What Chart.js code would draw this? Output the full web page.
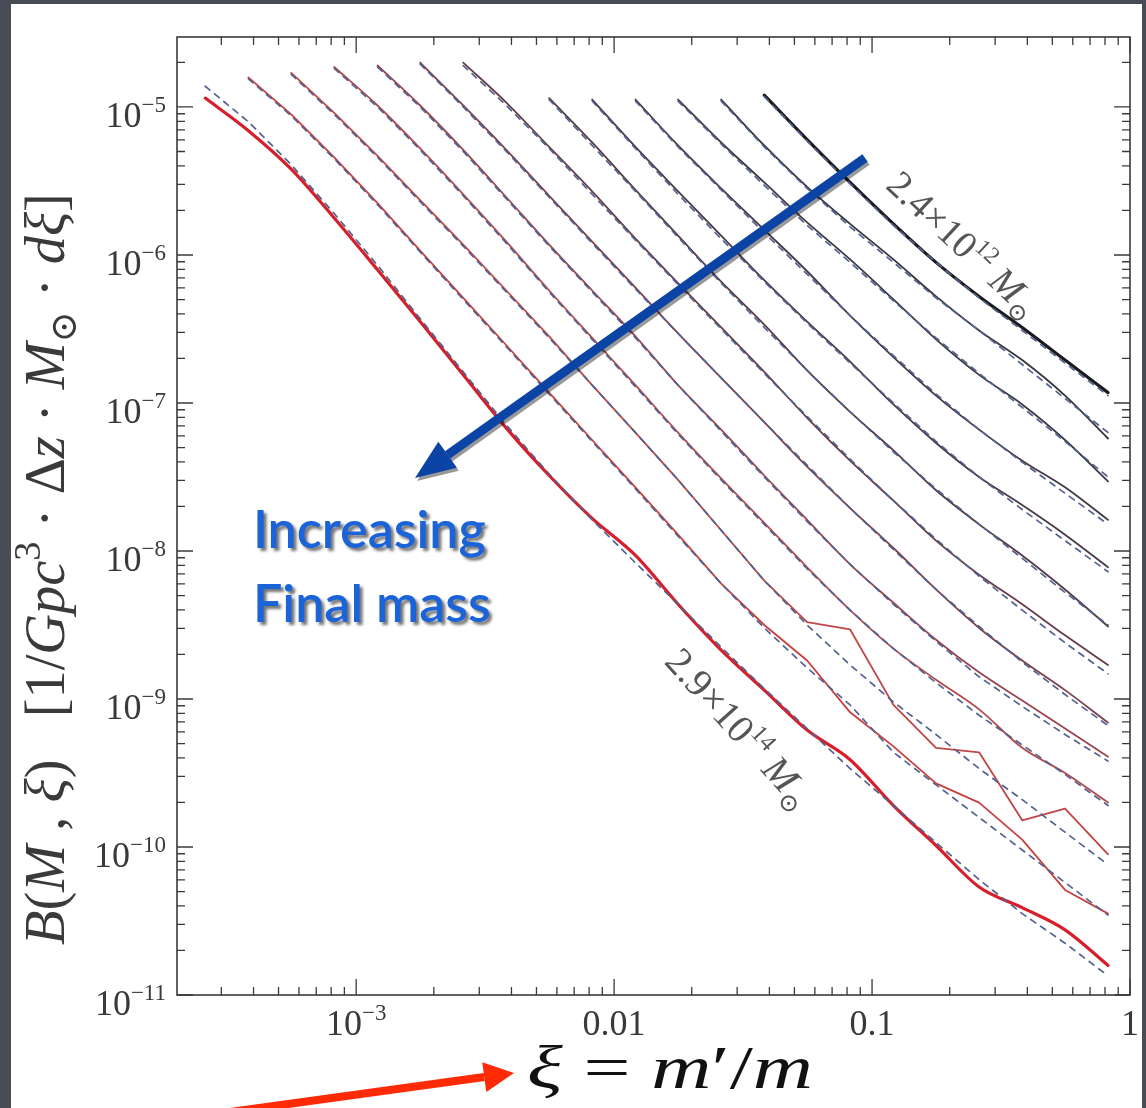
<!DOCTYPE html>
<html>
<head>
<meta charset="utf-8">
<title>Merger rate per halo mass bin</title>
<script src="https://cdn.jsdelivr.net/npm/chart.js@4.4.1/dist/chart.umd.min.js"></script>
<style>
  html, body { margin: 0; padding: 0; background: #474c57; }
  #wrap { width: 1146px; height: 1108px; }
</style>
</head>
<body>
<div id="wrap"><canvas id="rateChart" width="1146" height="1108"></canvas></div>
<script>
// ---- data ---------------------------------------------------------------
// xi = m'/m bin centres, six bins per decade
const xiBins = [2.60e-4, 3.82e-4, 5.60e-4, 8.22e-4, 1.21e-3, 1.77e-3, 2.60e-3, 3.82e-3,
                5.60e-3, 8.22e-3, 1.21e-2, 1.77e-2, 2.60e-2, 3.82e-2, 5.60e-2, 8.22e-2,
                0.121, 0.177, 0.260, 0.382, 0.560, 0.822];

// first xi bin used by each final-mass curve (most massive first)
const startBin = [0, 1, 2, 3, 4, 5, 6, 8, 9, 10, 11, 12, 13];

// log10 B(M, xi), measured curves (bin01 = 2.9e14 Msun ... bin13 = 2.4e12 Msun)
const logB_bin01 = [-4.94, -5.16, -5.42, -5.75, -6.10, -6.45, -6.81, -7.17, -7.49, -7.78, -8.03, -8.36, -8.67, -8.94, -9.21, -9.41, -9.72, -9.99, -10.27, -10.41, -10.56, -10.80];
const logB_bin02 = [-4.80, -5.05, -5.34, -5.65, -5.97, -6.29, -6.61, -6.93, -7.25, -7.57, -7.89, -8.22, -8.50, -8.74, -9.09, -9.32, -9.57, -9.70, -9.95, -10.29, -10.45];
const logB_bin03 = [-4.77, -5.04, -5.33, -5.63, -5.93, -6.24, -6.55, -6.88, -7.20, -7.52, -7.86, -8.20, -8.48, -8.53, -9.04, -9.33, -9.36, -9.82, -9.74, -10.05];
const logB_bin04 = [-4.73, -4.99, -5.28, -5.59, -5.91, -6.24, -6.56, -6.88, -7.20, -7.51, -7.81, -8.11, -8.40, -8.66, -8.87, -9.07, -9.33, -9.50, -9.70];
const logB_bin05 = [-4.72, -4.99, -5.29, -5.61, -5.93, -6.24, -6.55, -6.88, -7.18, -7.49, -7.79, -8.09, -8.35, -8.60, -8.82, -9.01, -9.20, -9.39];
const logB_bin06 = [-4.70, -4.99, -5.29, -5.60, -5.91, -6.22, -6.53, -6.83, -7.13, -7.43, -7.71, -7.98, -8.26, -8.52, -8.74, -8.94, -9.16];
const logB_bin07 = [-4.70, -4.97, -5.27, -5.57, -5.89, -6.19, -6.49, -6.79, -7.10, -7.39, -7.66, -7.93, -8.16, -8.36, -8.57, -8.77];
const logB_bin08 = [-4.94, -5.24, -5.56, -5.87, -6.18, -6.47, -6.78, -7.06, -7.32, -7.59, -7.82, -8.03, -8.26, -8.51];
const logB_bin09 = [-4.95, -5.27, -5.57, -5.87, -6.17, -6.45, -6.72, -7.01, -7.27, -7.50, -7.69, -7.89, -8.11];
const logB_bin10 = [-4.95, -5.26, -5.55, -5.83, -6.11, -6.41, -6.69, -6.95, -7.18, -7.39, -7.57, -7.79];
const logB_bin11 = [-4.95, -5.24, -5.51, -5.78, -6.03, -6.30, -6.57, -6.81, -7.01, -7.25, -7.53];
const logB_bin12 = [-4.95, -5.26, -5.54, -5.79, -6.03, -6.28, -6.51, -6.71, -6.95, -7.24];
const logB_bin13 = [-4.92, -5.22, -5.51, -5.79, -6.05, -6.28, -6.49, -6.71, -6.93];

// log10 B, fitted curves (dashed)
const fit_bin01 = [-4.86, -5.10, -5.39, -5.72, -6.07, -6.43, -6.79, -7.15, -7.48, -7.79, -8.08, -8.36, -8.65, -8.93, -9.20, -9.47, -9.72, -9.97, -10.22, -10.45, -10.65, -10.87];
const fit_bin02 = [-4.81, -5.06, -5.35, -5.66, -5.98, -6.30, -6.62, -6.94, -7.26, -7.58, -7.90, -8.22, -8.52, -8.79, -9.04, -9.36, -9.58, -9.80, -10.02, -10.24, -10.46];
const fit_bin03 = [-4.78, -5.05, -5.34, -5.64, -5.94, -6.25, -6.56, -6.88, -7.20, -7.52, -7.86, -8.20, -8.50, -8.77, -9.02, -9.24, -9.47, -9.68, -9.90, -10.12];
const fit_bin04 = [-4.74, -5.00, -5.29, -5.60, -5.92, -6.25, -6.57, -6.89, -7.21, -7.52, -7.82, -8.12, -8.40, -8.66, -8.89, -9.11, -9.31, -9.51, -9.72];
const fit_bin05 = [-4.73, -5.00, -5.30, -5.62, -5.94, -6.25, -6.56, -6.88, -7.19, -7.50, -7.80, -8.09, -8.36, -8.61, -8.85, -9.05, -9.24, -9.42];
const fit_bin06 = [-4.71, -5.00, -5.30, -5.61, -5.92, -6.23, -6.53, -6.83, -7.13, -7.42, -7.71, -7.99, -8.26, -8.51, -8.75, -8.97, -9.18];
const fit_bin07 = [-4.72, -4.99, -5.28, -5.59, -5.90, -6.20, -6.50, -6.80, -7.09, -7.38, -7.66, -7.92, -8.17, -8.40, -8.62, -8.83];
const fit_bin08 = [-4.95, -5.26, -5.57, -5.88, -6.19, -6.49, -6.78, -7.06, -7.33, -7.58, -7.82, -8.05, -8.28, -8.50];
const fit_bin09 = [-4.96, -5.28, -5.59, -5.89, -6.18, -6.46, -6.73, -7.00, -7.26, -7.50, -7.72, -7.93, -8.14];
const fit_bin10 = [-4.96, -5.27, -5.56, -5.85, -6.13, -6.41, -6.68, -6.94, -7.18, -7.40, -7.61, -7.82];
const fit_bin11 = [-4.96, -5.25, -5.53, -5.80, -6.05, -6.31, -6.56, -6.80, -7.03, -7.26, -7.50];
const fit_bin12 = [-4.96, -5.27, -5.55, -5.81, -6.05, -6.29, -6.51, -6.74, -6.97, -7.20];
const fit_bin13 = [-4.93, -5.23, -5.52, -5.80, -6.05, -6.29, -6.51, -6.73, -6.95];

// axis ticks
const yTickExps = [-5, -6, -7, -8, -9, -10, -11];
const xTickValues = [1e-3, 0.01, 0.1, 1];
const xTickLabels = [['10', '\u22123'], ['0.01', ''], ['0.1', ''], ['1', '']];

const measured = [logB_bin01, logB_bin02, logB_bin03, logB_bin04, logB_bin05, logB_bin06, logB_bin07,
                  logB_bin08, logB_bin09, logB_bin10, logB_bin11, logB_bin12, logB_bin13];
const fitted = [fit_bin01, fit_bin02, fit_bin03, fit_bin04, fit_bin05, fit_bin06, fit_bin07,
                fit_bin08, fit_bin09, fit_bin10, fit_bin11, fit_bin12, fit_bin13];

// ---- styling ---------------------------------------------------------------
// colour runs from red (most massive) to black (least massive)
const lineColors = ['#d61f2b', '#c8413f', '#c04646', '#b24a50', '#9a4650', '#7e404c', '#663d4a',
                    '#553b48', '#4a3a47', '#423a46', '#3c3a44', '#36363f', '#1b1b1f'];
const fitColor = '#53638f';
const serif = "'Liberation Serif', 'DejaVu Serif', serif";

function toPoints(logs, start) {
  return logs.map((v, j) => ({ x: xiBins[start + j], y: Math.pow(10, v) }));
}

const datasets = [];
measured.forEach((logs, i) => {
  const thick = (i === 0 || i === measured.length - 1);
  datasets.push({
    label: 'fit ' + (i + 1),
    data: toPoints(fitted[i], startBin[i]),
    borderColor: fitColor,
    borderWidth: 1.7,
    borderDash: [6, 6],
    order: 0
  });
  // the two noisy red curves keep straight segments, the rest are smoothed a little
  datasets.push({
    label: 'bin ' + (i + 1),
    data: toPoints(logs, startBin[i]),
    borderColor: lineColors[i],
    borderWidth: thick ? 3.2 : 1.8,
    cubicInterpolationMode: (i === 1 || i === 2) ? 'default' : 'monotone',
    order: thick ? 1 : 2
  });
});

// ---- text helpers ---------------------------------------------------------------
function fontOf(r, size) {
  return (r.it ? 'italic ' : '') + (size * (r.s || 1)).toFixed(1) + 'px ' + serif;
}
function runsWidth(ctx, runs, size) {
  let w = 0;
  runs.forEach(r => { ctx.font = fontOf(r, size); w += ctx.measureText(r.t).width; });
  return w;
}
function drawRuns(ctx, runs, x, y, size) {
  let cx = x;
  runs.forEach(r => {
    ctx.font = fontOf(r, size);
    ctx.fillText(r.t, cx, y + (r.dy || 0) * size);
    cx += ctx.measureText(r.t).width;
  });
}
function fitSize(ctx, runs, width) {
  return 100 * width / runsWidth(ctx, runs, 100);
}
function drawRotated(ctx, runs, x0, y0, x1, y1, color) {
  const ang = Math.atan2(y1 - y0, x1 - x0);
  const len = Math.hypot(x1 - x0, y1 - y0);
  const size = fitSize(ctx, runs, len);
  ctx.save();
  ctx.translate(x0, y0);
  ctx.rotate(ang);
  ctx.fillStyle = color;
  ctx.textBaseline = 'alphabetic';
  drawRuns(ctx, runs, 0, size * 0.33, size);
  ctx.restore();
}
function arrow(ctx, x0, y0, x1, y1, width, head, half, color) {
  const ang = Math.atan2(y1 - y0, x1 - x0);
  const bx = x1 - head * Math.cos(ang), by = y1 - head * Math.sin(ang);
  ctx.strokeStyle = color;
  ctx.fillStyle = color;
  ctx.lineWidth = width;
  ctx.lineCap = 'butt';
  ctx.beginPath(); ctx.moveTo(x0, y0); ctx.lineTo(bx, by); ctx.stroke();
  ctx.beginPath();
  ctx.moveTo(x1, y1);
  ctx.lineTo(bx + half * Math.sin(ang), by - half * Math.cos(ang));
  ctx.lineTo(bx - half * Math.sin(ang), by + half * Math.cos(ang));
  ctx.closePath(); ctx.fill();
}

// ---- plugin: slide background, frame, ticks, labels and annotations ----------------
const slidePlugin = {
  id: 'slide',
  beforeDraw(chart) {
    const ctx = chart.ctx;
    ctx.save();
    ctx.fillStyle = '#474c57';
    ctx.fillRect(0, 0, chart.width, chart.height);
    ctx.fillStyle = '#ffffff';
    ctx.fillRect(11, 4, 1131, 1104);
    ctx.restore();
  },
  afterDraw(chart) {
    const ctx = chart.ctx;
    const a = chart.chartArea;
    const xs = chart.scales.x, ys = chart.scales.y;
    ctx.save();

    // frame
    ctx.strokeStyle = '#3a3a3a';
    ctx.lineWidth = 1.6;
    ctx.strokeRect(a.left, a.top, a.right - a.left, a.bottom - a.top);

    // inward ticks on all four sides
    ctx.lineWidth = 1.3;
    ctx.beginPath();
    for (let e = -4; e <= 0; e++) {
      for (let m = 1; m <= 9; m++) {
        const v = m * Math.pow(10, e);
        if (v <= xs.min || v > xs.max) continue;
        const px = xs.getPixelForValue(v);
        const L = m === 1 ? 16 : 8;
        ctx.moveTo(px, a.bottom); ctx.lineTo(px, a.bottom - L);
        ctx.moveTo(px, a.top); ctx.lineTo(px, a.top + L);
      }
    }
    for (let e = -11; e <= -5; e++) {
      for (let m = 1; m <= 9; m++) {
        const v = m * Math.pow(10, e);
        if (v < ys.min || v >= ys.max) continue;
        const py = ys.getPixelForValue(v);
        const L = m === 1 ? 16 : 8;
        ctx.moveTo(a.left, py); ctx.lineTo(a.left + L, py);
        ctx.moveTo(a.right, py); ctx.lineTo(a.right - L, py);
      }
    }
    ctx.stroke();

    // tick labels
    ctx.fillStyle = '#3a3a3a';
    ctx.textBaseline = 'alphabetic';
    const tsz = 36;
    yTickExps.forEach(e => {
      const py = ys.getPixelForValue(Math.pow(10, e));
      const runs = [{ t: '10' }, { t: '\u2212' + Math.abs(e), s: 0.64, dy: -0.42 }];
      const w = runsWidth(ctx, runs, tsz);
      drawRuns(ctx, runs, a.left - 11 - w, py + 20, tsz);
    });
    xTickValues.forEach((v, i) => {
      const px = xs.getPixelForValue(v);
      const runs = [{ t: xTickLabels[i][0] }];
      if (xTickLabels[i][1]) runs.push({ t: xTickLabels[i][1], s: 0.64, dy: -0.42 });
      const w = runsWidth(ctx, runs, tsz);
      drawRuns(ctx, runs, px - w / 2, a.bottom + 40, tsz);
    });

    // y axis title, reading upwards
    const yTitle = [{ t: 'B', it: true }, { t: '(' }, { t: 'M', it: true }, { t: ' , ' }, { t: '\u03be', it: true },
      { t: ')' }, { t: '   [1/' }, { t: 'Gpc', it: true }, { t: '3', s: 0.68, dy: -0.42 }, { t: ' \u00b7 \u0394' },
      { t: 'z', it: true }, { t: ' \u00b7 ' }, { t: 'M', it: true }, { t: '\u2299', s: 0.66, dy: 0.22 },
      { t: ' \u00b7 ' }, { t: 'd\u03be', it: true }, { t: ']' }];
    const ysz = fitSize(ctx, yTitle, 752);
    ctx.save();
    ctx.translate(64, 945);
    ctx.rotate(-Math.PI / 2);
    ctx.fillStyle = '#3a3a3a';
    drawRuns(ctx, yTitle, 0, 0, ysz);
    ctx.restore();

    // x axis title, stretched sideways to the reference width
    const xTitle = [{ t: '\u03be', it: true }, { t: ' = ' }, { t: 'm', it: true }, { t: '\u2032' }, { t: '/' }, { t: 'm', it: true }];
    const xsz = 62;
    const xw = runsWidth(ctx, xTitle, xsz);
    ctx.save();
    ctx.translate(527, 1088);
    ctx.scale(286 / xw, 1);
    ctx.fillStyle = '#111111';
    drawRuns(ctx, xTitle, 0, 0, xsz);
    ctx.restore();

    // mass labels along the two extreme curves
    drawRotated(ctx, [{ t: '2.4\u00d710' }, { t: '12', s: 0.62, dy: -0.42 }, { t: ' ' }, { t: 'M', it: true },
      { t: '\u2299', s: 0.64, dy: 0.22 }], 893, 178, 1034, 310, '#555555');
    drawRotated(ctx, [{ t: '2.9\u00d710' }, { t: '14', s: 0.62, dy: -0.42 }, { t: ' ' }, { t: 'M', it: true },
      { t: '\u2299', s: 0.64, dy: 0.22 }], 673, 654, 806, 802, '#555555');

    // blue arrow with its shadow
    arrow(ctx, 867, 161, 417, 481, 9, 40, 16, 'rgba(0,0,0,0.4)');
    arrow(ctx, 865, 158, 415, 478, 9, 40, 16, '#0c44a6');

    // annotation text
    ctx.font = '600 52px Lato, "Open Sans", sans-serif';
    ctx.fillStyle = '#1b63d8';
    ctx.shadowColor = 'rgba(0,0,0,0.55)';
    ctx.shadowOffsetX = 3;
    ctx.shadowOffsetY = 3;
    ctx.shadowBlur = 3;
    ctx.fillText('Increasing', 253, 548, 270);
    ctx.fillText('Final mass', 253, 622, 270);
    ctx.shadowColor = 'transparent';

    // red arrow pointing at the xi label
    arrow(ctx, 230, 1112, 514, 1073, 8, 30, 15, '#ff2a06');

    ctx.restore();
  }
};

new Chart(document.getElementById('rateChart'), {
  type: 'line',
  data: { datasets: datasets },
  options: {
    responsive: false,
    animation: false,
    layout: { padding: { left: 177, right: 16, top: 37, bottom: 113 } },
    plugins: { legend: { display: false }, tooltip: { enabled: false } },
    elements: { point: { radius: 0 }, line: { tension: 0, borderJoinStyle: 'round', borderCapStyle: 'round' } },
    scales: {
      x: { type: 'logarithmic', min: 2.02e-4, max: 1, display: false },
      y: { type: 'logarithmic', min: 1e-11, max: 2.97e-5, display: false }
    }
  },
  plugins: [slidePlugin]
});
</script>
</body>
</html>
